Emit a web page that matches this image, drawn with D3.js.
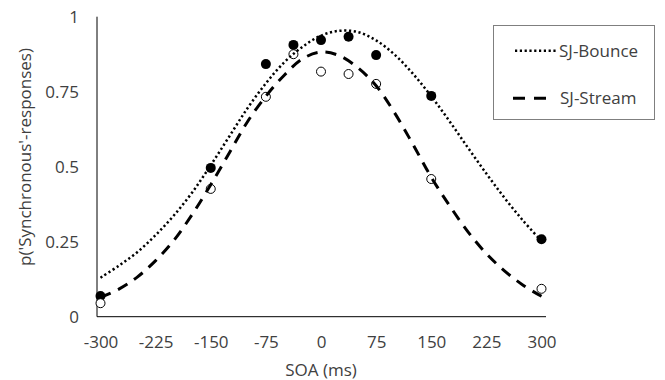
<!DOCTYPE html>
<html>
<head>
<meta charset="utf-8">
<script src="https://cdn.jsdelivr.net/npm/d3@7"></script>
<style>
  body { margin: 0; background: #fff; }
  text { font-family: "Open Sans", sans-serif; fill: #404040; }
</style>
</head>
<body>
<div id="chart"></div>
<script>
// SOA conditions (ms)
const soa = [-300, -150, -75, -37.5, 0, 37.5, 75, 150, 300];
// observed proportions
const bounceObs = [0.069, 0.496, 0.842, 0.906, 0.922, 0.933, 0.872, 0.736, 0.258];
const streamObs = [0.045, 0.426, 0.733, 0.875, 0.817, 0.809, 0.776, 0.459, 0.093];

// fitted curves
const fitX = [-300, -275, -250, -225, -200, -175, -150, -125, -100, -75, -50, -25, 0, 25, 50, 75, 100, 125, 150, 175, 200, 225, 250, 275, 300];
const bounceFitY = [0.13, 0.17, 0.215, 0.272, 0.338, 0.415, 0.505, 0.60, 0.695, 0.778, 0.848, 0.90, 0.937, 0.953, 0.949, 0.921, 0.874, 0.81, 0.735, 0.651, 0.563, 0.477, 0.395, 0.32, 0.252];
const streamFitY = [0.065, 0.092, 0.132, 0.187, 0.255, 0.342, 0.44, 0.545, 0.65, 0.735, 0.805, 0.86, 0.882, 0.87, 0.83, 0.77, 0.68, 0.575, 0.465, 0.37, 0.283, 0.21, 0.152, 0.105, 0.068];

const xTicks = [-300, -225, -150, -75, 0, 75, 150, 225, 300];
const yTicks = [0, 0.25, 0.5, 0.75, 1];

const width = 665, height = 380;

const svg = d3.select('#chart').append('svg')
  .attr('width', width)
  .attr('height', height);

const x = d3.scaleLinear().domain([-300, 300]).range([100.5, 541.5]);
const y = d3.scaleLinear().domain([0, 1]).range([316.7, 16.7]);

// axes lines
svg.append('line')
  .attr('x1', 97).attr('x2', 97)
  .attr('y1', y(1)).attr('y2', y(0))
  .attr('stroke', '#000').attr('stroke-width', 1);
svg.append('line')
  .attr('x1', 97).attr('x2', 546)
  .attr('y1', y(0)).attr('y2', y(0))
  .attr('stroke', '#000').attr('stroke-width', 1);

// tick labels (plain hyphen for negatives, as in the original)
const xAxis = svg.append('g')
  .attr('transform', `translate(0,${y(0)})`)
  .call(d3.axisBottom(x).tickValues(xTicks).tickSize(0).tickPadding(31).tickFormat(d => String(d)));
xAxis.select('.domain').remove();

const yAxis = svg.append('g')
  .attr('transform', 'translate(97,0)')
  .call(d3.axisLeft(y).tickValues(yTicks).tickSize(0).tickPadding(18).tickFormat(d => String(d)));
yAxis.select('.domain').remove();

svg.selectAll('.tick text')
  .style('font-family', '"Open Sans", sans-serif')
  .style('font-size', '17px')
  .attr('fill', '#404040');
xAxis.selectAll('.tick text').attr('dy', 0);

// axis titles
svg.append('text')
  .attr('x', x(0)).attr('y', 376)
  .attr('text-anchor', 'middle')
  .style('font-size', '17px')
  .text('SOA (ms)');

svg.append('text')
  .attr('transform', 'translate(31,157) rotate(-90)')
  .attr('text-anchor', 'middle')
  .style('font-size', '17px')
  .text("p('Synchronous'-responses)");

// markers
svg.append('g').selectAll('circle')
  .data(soa.map((s, i) => [s, bounceObs[i]]))
  .enter().append('circle')
  .attr('cx', d => x(d[0]))
  .attr('cy', d => y(d[1]))
  .attr('r', 5)
  .attr('fill', '#000');

svg.append('g').selectAll('circle')
  .data(soa.map((s, i) => [s, streamObs[i]]))
  .enter().append('circle')
  .attr('cx', d => x(d[0]))
  .attr('cy', d => y(d[1]))
  .attr('r', 4.5)
  .attr('fill', '#fff')
  .attr('stroke', '#000')
  .attr('stroke-width', 1);

// fitted lines
const line = d3.line()
  .x(d => x(d[0]))
  .y(d => y(d[1]))
  .curve(d3.curveCatmullRom);

svg.append('path')
  .datum(fitX.map((v, i) => [v, bounceFitY[i]]))
  .attr('d', line)
  .attr('fill', 'none')
  .attr('stroke', '#000')
  .attr('stroke-width', 2.5)
  .attr('stroke-dasharray', '2.2,2.6');

svg.append('path')
  .datum(fitX.map((v, i) => [v, streamFitY[i]]))
  .attr('d', line)
  .attr('fill', 'none')
  .attr('stroke', '#000')
  .attr('stroke-width', 3)
  .attr('stroke-dasharray', '11,8');

// legend
const legend = svg.append('g');
legend.append('rect')
  .attr('x', 493.5).attr('y', 25.5)
  .attr('width', 161).attr('height', 94)
  .attr('fill', '#fff')
  .attr('stroke', '#7f7f7f')
  .attr('stroke-width', 1);

const legendItems = [
  { label: 'SJ-Bounce', dash: '2.2,2.6', w: 2.5, x1: 515, x2: 558, tx: 559, y: 50.7 },
  { label: 'SJ-Stream', dash: '12,9', w: 3, x1: 513, x2: 550, tx: 560, y: 98.3 }
];

legendItems.forEach(d => {
  legend.append('line')
    .attr('x1', d.x1).attr('x2', d.x2)
    .attr('y1', d.y).attr('y2', d.y)
    .attr('stroke', '#000')
    .attr('stroke-width', d.w)
    .attr('stroke-dasharray', d.dash);
  legend.append('text')
    .attr('x', d.tx).attr('y', d.y)
    .attr('dy', '0.35em')
    .style('font-size', '17px')
    .text(d.label);
});
</script>
</body>
</html>
